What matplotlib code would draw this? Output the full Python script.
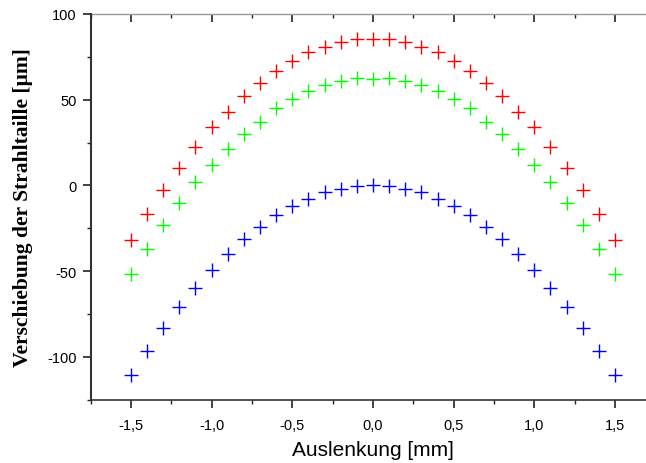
import matplotlib
matplotlib.use("Agg")
import matplotlib.pyplot as plt
from matplotlib.ticker import MultipleLocator, FuncFormatter

# Auslenkung [mm]
x_mm = [-1.5, -1.4, -1.3, -1.2, -1.1, -1.0, -0.9, -0.8, -0.7, -0.6, -0.5,
        -0.4, -0.3, -0.2, -0.1, 0.0, 0.1, 0.2, 0.3, 0.4, 0.5,
        0.6, 0.7, 0.8, 0.9, 1.0, 1.1, 1.2, 1.3, 1.4, 1.5]

# Verschiebung der Strahltaille [um]
red_um = [-31.7, -16.5, -2.6, 10.3, 22.5, 33.8, 43.1, 52.4, 60.0, 67.0, 72.7,
          77.7, 81.0, 83.7, 85.3, 85.6, 85.3, 83.7, 81.0, 77.7, 72.7,
          67.0, 60.0, 52.4, 43.1, 33.8, 22.5, 10.3, -2.6, -16.5, -31.7]
green_um = [-51.9, -36.9, -23.0, -10.3, 1.9, 12.2, 21.3, 30.1, 37.2, 45.0, 50.6,
            55.1, 58.6, 61.1, 62.9, 62.1, 62.9, 61.1, 58.6, 55.1, 50.6,
            45.0, 37.2, 30.1, 21.3, 12.2, 1.9, -10.3, -23.0, -36.9, -51.9]
blue_um = [-110.8, -96.6, -83.2, -70.9, -59.7, -49.6, -39.9, -31.5, -24.3, -17.3, -12.1,
           -7.8, -3.9, -2.0, -0.5, 0.0, -0.5, -2.0, -3.9, -7.8, -12.1,
           -17.3, -24.3, -31.5, -39.9, -49.6, -59.7, -70.9, -83.2, -96.6, -110.8]

fig = plt.figure(figsize=(6.46, 4.64), dpi=100)
ax = fig.add_axes([0.1402, 0.1364, 0.8743, 0.8313])

for y, col in [(red_um, "#ff0000"), (green_um, "#00ff00"), (blue_um, "#0000ff")]:
    ax.plot(x_mm, y, linestyle="none", marker="+", markersize=10,
            markeredgewidth=1.0, color=col)

ax.set_xlim(-1.75, 1.75)
ax.set_ylim(-125, 100)

ax.xaxis.set_major_locator(MultipleLocator(0.5))
ax.xaxis.set_minor_locator(MultipleLocator(0.25))
ax.yaxis.set_major_locator(MultipleLocator(50))
ax.yaxis.set_minor_locator(MultipleLocator(25))
ax.xaxis.set_major_formatter(FuncFormatter(lambda v, p: f"{v:.1f}".replace(".", ",")))
ax.yaxis.set_major_formatter(FuncFormatter(lambda v, p: f"{v:.0f}"))

ax.tick_params(which="major", direction="out", length=6, width=1.2,
               color="#222222", labelsize=10.5, pad=4)
ax.tick_params(which="minor", direction="out", length=3, width=1.0, color="#222222")
ax.tick_params(axis="x", which="major", pad=7)
for lab in ax.get_xticklabels() + ax.get_yticklabels():
    lab.set_fontfamily("Liberation Sans")

ax.spines["left"].set_linewidth(1.5)
ax.spines["left"].set_color("#333333")
ax.spines["bottom"].set_linewidth(1.2)
ax.spines["bottom"].set_color("#333333")
ax.spines["right"].set_visible(False)
ax.spines["top"].set_visible(False)

# top axis: ticks pointing inward, no labels
top = ax.secondary_xaxis("top")
top.xaxis.set_major_locator(MultipleLocator(0.5))
top.xaxis.set_minor_locator(MultipleLocator(0.25))
top.tick_params(which="major", direction="in", length=6, width=1.2,
                color="#222222", labeltop=False)
top.tick_params(which="minor", direction="in", length=3, width=1.0,
                color="#222222")
top.spines["top"].set_color("#999999")
top.spines["top"].set_linewidth(1.0)

ax.set_xlabel("Auslenkung [mm]", fontsize=15, family="Liberation Sans", labelpad=6)
ax.set_ylabel("Verschiebung der Strahltaille [µm]", fontsize=15.5,
              family="Liberation Serif", fontweight="bold", labelpad=10)

fig.savefig("out.png", dpi=100)
